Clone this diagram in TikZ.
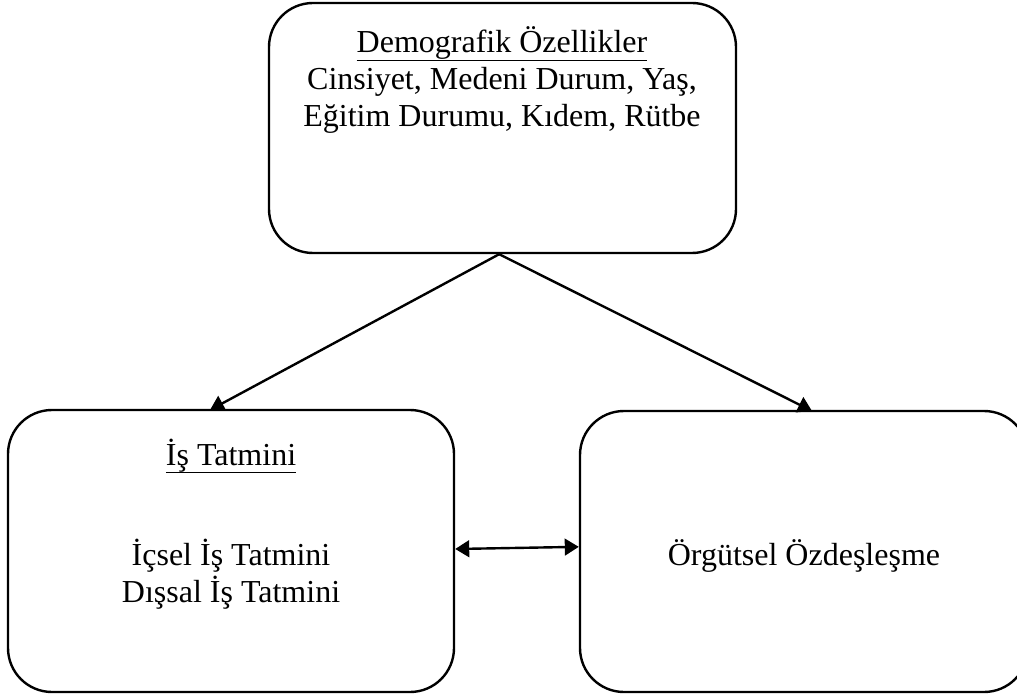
\documentclass[tikz,border=0pt]{standalone}
\usepackage{fontspec}
\setmainfont{Liberation Serif}
\usetikzlibrary{fit,arrows.meta}

% underline set at a fixed distance below the baseline
\newcommand\headline[1]{\setbox0\hbox{#1}\rlap{\vrule width\wd0 height -5pt depth 6.3pt}\box0}

\begin{document}
\begin{tikzpicture}[x=0.75pt,y=-0.75pt,
  box/.style={draw, line width=1.8pt, rounded corners=33pt, inner sep=0pt},
  txt/.style={inner sep=0pt, anchor=base, align=center,
    font=\fontsize{24pt}{27.75pt}\selectfont},
  tip/.style={Triangle[length=10.5pt,width=12.5pt]},
  link/.style={line width=1.8pt, -{Triangle[length=10.5pt,width=12.5pt]}},
  biarrow/.style={line width=1.8pt, {Triangle[length=10.5pt,width=12.5pt]}-{Triangle[length=10.5pt,width=12.5pt]}}]
\clip (0,0) rectangle (1017,698);

% boxes
\node[box, fit={(269,3) (736,253)}] (demo) {};
\node[box, fit={(8,410) (454,692)}] (job) {};
\node[box, fit={(580,411) (1028,692)}] (org) {};

% texts
\node[txt] (demoT) at (502,53) {\headline{Demografik Özellikler}};
\node[txt] (demo2) at (502,90) {Cinsiyet, Medeni Durum, Yaş,};
\node[txt] (demo3) at (502,127) {Eğitim Durumu, Kıdem, Rütbe};
\node[txt] (jobT) at (231,465) {\headline{İş Tatmini}};
\node[txt] (job2) at (231,565) {İçsel İş Tatmini};
\node[txt] (job3) at (231,602) {Dışsal İş Tatmini};
\node[txt] (orgT) at (804,565) {Örgütsel Özdeşleşme};

% connectors
\coordinate (apex) at ([xshift=-2.5pt]demo.south);
\coordinate (jobIn) at (210,410);
\coordinate (orgIn) at (812,411);
\draw[link] (apex) -- (jobIn);
\draw[link] (apex) -- (orgIn);
\draw[biarrow] ([yshift=1.5pt]job.east) -- ([yshift=3.5pt]org.west);
\end{tikzpicture}
\end{document}
